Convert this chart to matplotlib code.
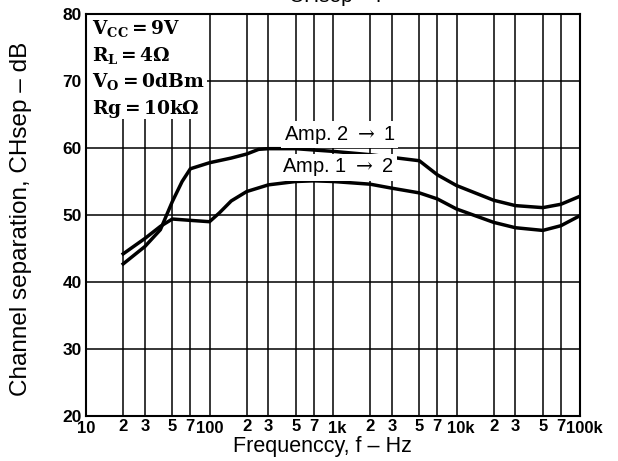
import matplotlib
matplotlib.use("Agg")
import matplotlib.pyplot as plt
import matplotlib.transforms as mtransforms
from matplotlib.patches import Rectangle
from matplotlib.ticker import FixedLocator, FixedFormatter, NullFormatter

# curves
freq_21 = [20, 30, 40, 50, 60, 70, 100, 150, 200, 250, 300, 500, 700, 1000,
           2000, 3000, 5000, 7000, 10000, 20000, 30000, 50000, 70000, 100000]
sep_21 = [42.7, 45.3, 47.8, 52.0, 55.0, 56.9, 57.8, 58.5, 59.1, 59.8, 59.9, 59.9,
          59.7, 59.5, 59.0, 58.6, 58.1, 56.0, 54.4, 52.2, 51.4, 51.1, 51.6, 52.8]

freq_12 = [20, 30, 40, 50, 70, 100, 120, 150, 200, 300, 500, 700, 1000,
           2000, 3000, 5000, 7000, 10000, 20000, 30000, 50000, 70000, 100000]
sep_12 = [44.2, 46.5, 48.3, 49.4, 49.2, 49.0, 50.3, 52.1, 53.5, 54.5, 55.0, 55.1,
          55.0, 54.6, 54.0, 53.3, 52.4, 50.9, 48.9, 48.1, 47.7, 48.4, 49.9]

decades = [10, 100, 1000, 10000, 100000]
decade_labels = ["10", "100", "1k", "10k", "100k"]
minor_ticks = [20, 30, 50, 70, 200, 300, 500, 700, 2000, 3000, 5000, 7000,
               20000, 30000, 50000, 70000]
minor_labels = ["2", "3", "5", "7"] * 4
yticks = [20, 30, 40, 50, 60, 70, 80]

conditions = [r"$\mathbf{V_{CC}=9V}$", r"$\mathbf{R_{L}=4\Omega}$",
              r"$\mathbf{V_{O}=0dBm}$", r"$\mathbf{Rg=10k\Omega}$"]

plt.rcParams['font.family'] = ['Liberation Sans', 'DejaVu Sans']
plt.rcParams['mathtext.fontset'] = 'dejavuserif'

fig = plt.figure(figsize=(6.18, 4.61), dpi=100)
ax = fig.add_axes([86/618, 45/461, 494/618, 402/461])

ax.set_xscale('log')
ax.set_xlim(10, 100000)
ax.set_ylim(20, 80)

ax.xaxis.set_major_locator(FixedLocator(decades))
ax.xaxis.set_major_formatter(NullFormatter())
ax.xaxis.set_minor_locator(FixedLocator(minor_ticks))
ax.xaxis.set_minor_formatter(FixedFormatter(minor_labels))
ax.set_yticks(yticks)
ax.tick_params(which='both', length=0, labelsize=12, pad=2)
ax.tick_params(axis='y', labelsize=12.5, pad=3)
for lab in ax.get_xticklabels(minor=True) + ax.get_yticklabels():
    lab.set_fontweight('bold')

# decade labels, the "k" hangs to the right of the grid line
trans = mtransforms.blended_transform_factory(ax.transData, ax.transAxes)
for f, lab in zip(decades, decade_labels):
    shift = 4 if 'k' in lab else 0
    t = trans + mtransforms.ScaledTranslation(shift / 100, 0, fig.dpi_scale_trans)
    ax.text(f, -0.012, lab, transform=t, ha='center', va='top',
            fontsize=12, fontweight='bold')

ax.grid(True, which='both', color='black', linewidth=1.1, zorder=1)
for s in ax.spines.values():
    s.set_linewidth(1.5)

# white box with test conditions, hides the grid under it
ax.add_patch(Rectangle((0.003, 0.74), 0.242, 0.257, transform=ax.transAxes,
                       facecolor='white', edgecolor='none', zorder=2))
for i, t in enumerate(conditions):
    ax.text(0.012, 0.99 - i * 0.066, t, transform=ax.transAxes, fontsize=13.4,
            va='top', ha='left', zorder=3)

ax.plot(freq_21, sep_21, color='black', linewidth=2.5, solid_joinstyle='round', zorder=4)
ax.plot(freq_12, sep_12, color='black', linewidth=2.5, solid_joinstyle='round', zorder=4)

ax.text(400, 62.0, r"Amp. 2 $\rightarrow$ 1", fontsize=14.5, ha='left', va='center',
        zorder=5, bbox=dict(facecolor='white', edgecolor='none', pad=2))
ax.text(390, 57.1, r"Amp. 1 $\rightarrow$ 2", fontsize=14.5, ha='left', va='center',
        zorder=5, bbox=dict(facecolor='white', edgecolor='none', pad=2))

ax.set_xlabel("Frequenccy, f – Hz", fontsize=15.5, va='top')
ax.xaxis.set_label_coords(0.478, -0.05)
ax.set_ylabel("Channel separation, CHsep – dB", fontsize=17.5)
ax.yaxis.set_label_coords(-0.109, 0.49)

# title of the original graph is cut off at the top edge
fig.text(335/618, 1 - 2/461, "CHsep – f", fontsize=15, ha='center', va='baseline')

fig.savefig("out.png", dpi=100)
